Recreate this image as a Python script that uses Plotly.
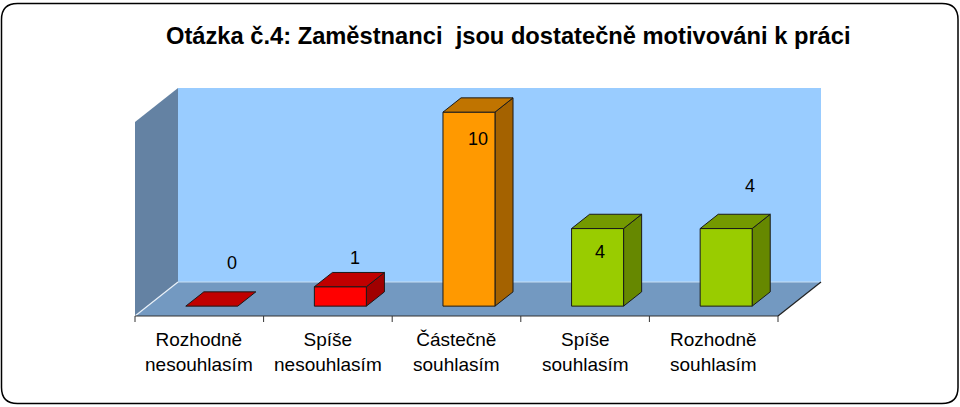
import plotly.graph_objects as go

# ---------------- data ----------------
categories = ["Rozhodně<br>nesouhlasím", "Spíše<br>nesouhlasím", "Částečně<br>souhlasím",
              "Spíše<br>souhlasím", "Rozhodně<br>souhlasím"]
values = [0, 1, 10, 4, 4]
title_text = "Otázka č.4: Zaměstnanci  jsou dostatečně motivováni k práci"
axis_max = 10

# ---------------- styles ----------------
front_colors = ["#FF0000", "#FF0000", "#FF9900", "#99CC00", "#99CC00"]
top_colors = ["#C00000", "#C00000", "#C07400", "#749900", "#749900"]
side_colors = ["#A00000", "#A00000", "#A46200", "#668800", "#668800"]
# label offsets (x in category units, y in value units) relative to bar top centre
label_dx = [0.087, 0.044, 0.0, -0.051, 0.115]
label_dy = [1.85, 1.11, -1.75, -1.58, 1.82]

W, H = 960, 407
ML, MR, MT, MB = 100, 100, 60, 60
PX_X0, PX_PER_X = 135.0, 128.6      # pixel of x=-0.5, pixels per category
PX_Y0, PX_PER_Y = 316.0, 19.4       # pixel of y=0 (front), pixels per unit
DX = 43 / PX_PER_X                  # full depth offset (x units)
DY = 34 / PX_PER_Y                  # full depth offset (y units)
F0, F1 = 0.29, 0.71                 # bar depth span
HW = 26 / PX_PER_X                  # bar half width

x_lo = (ML - PX_X0) / PX_PER_X - 0.5
x_hi = (W - MR - PX_X0) / PX_PER_X - 0.5
y_hi = (PX_Y0 - MT) / PX_PER_Y
y_lo = (PX_Y0 - (H - MB)) / PX_PER_Y

n = len(categories)
xl, xr = -0.5, n - 0.5

fig = go.Figure()


def poly(xs, ys, fill, line_color=None, width=0):
    fig.add_trace(go.Scatter(
        x=list(xs) + [xs[0]], y=list(ys) + [ys[0]], mode="lines", fill="toself",
        fillcolor=fill, line=dict(color=line_color or fill, width=width),
        hoverinfo="skip", showlegend=False))


def line(xs, ys, color, width=1):
    fig.add_trace(go.Scatter(x=xs, y=ys, mode="lines", line=dict(color=color, width=width),
                             hoverinfo="skip", showlegend=False))


# back wall
poly([xl + DX, xr + DX, xr + DX, xl + DX], [DY, DY, axis_max + DY, axis_max + DY], "#99CCFF")
# side wall
poly([xl, xl + DX, xl + DX, xl], [0, DY, axis_max + DY, axis_max], "#6482A3")
# floor
poly([xl, xr, xr + DX, xl + DX], [0, 0, DY, DY], "#7399C1")
line([xl + DX, xr + DX], [DY, DY], "#C8DDF2", 1.2)
line([xl, xl + DX], [0, DY], "#E8F0F8", 1.2)
line([xr, xr + DX], [0, DY], "#222222", 1.2)

# axis line and ticks
line([xl, xr], [0, 0], "#333333", 1.2)
tick_len = 6 / PX_PER_Y
for k in range(n + 1):
    line([xl + k, xl + k], [0, -tick_len], "#333333", 1)

# bars
edge = "#1A1A1A"
for i, v in enumerate(values):
    x0 = i - HW + F0 * DX
    x1 = i + HW + F0 * DX
    yb = F0 * DY
    ddx = (F1 - F0) * DX
    ddy = (F1 - F0) * DY
    yt = yb + v
    if v > 0:
        poly([x1, x1 + ddx, x1 + ddx, x1], [yb, yb + ddy, yt + ddy, yt], side_colors[i], edge, 1)
        poly([x0, x1, x1, x0], [yb, yb, yt, yt], front_colors[i], edge, 1)
    poly([x0, x1, x1 + ddx, x0 + ddx], [yt, yt, yt + ddy, yt + ddy], top_colors[i], edge, 1)

# data labels
for i, v in enumerate(values):
    cx = i + 0.5 * (F0 + F1) * DX
    cy = v + 0.5 * (F0 + F1) * DY
    fig.add_annotation(x=cx + label_dx[i], y=cy + label_dy[i], text=str(v), showarrow=False,
                       font=dict(family="Liberation Sans, Arial", size=18, color="#000000"),
                       xanchor="center", yanchor="middle")

# category labels
for i, c in enumerate(categories):
    fig.add_annotation(x=i, y=0, text=c, showarrow=False, yanchor="top", yshift=-11,
                       font=dict(family="Liberation Sans, Arial", size=19, color="#000000"),
                       xanchor="center", align="center")

# title
pw, ph = W - ML - MR, H - MT - MB
def paper_x(px):
    return (px - ML) / pw
def paper_y(py):
    return (H - MB - py) / ph

fig.add_annotation(x=paper_x(508), y=paper_y(36), xref="paper", yref="paper", text="<b>" + title_text + "</b>",
                   showarrow=False, xanchor="center", yanchor="middle",
                   font=dict(family="Liberation Sans, Arial", size=23.7, color="#000000"))

# rounded border
bx0, bx1, by0, by1, r = 1.5, 958.0, 3.5, 403.5, 16
X = paper_x
Y = paper_y
path = (f"M {X(bx0 + r)},{Y(by0)} L {X(bx1 - r)},{Y(by0)} Q {X(bx1)},{Y(by0)} {X(bx1)},{Y(by0 + r)} "
        f"L {X(bx1)},{Y(by1 - r)} Q {X(bx1)},{Y(by1)} {X(bx1 - r)},{Y(by1)} "
        f"L {X(bx0 + r)},{Y(by1)} Q {X(bx0)},{Y(by1)} {X(bx0)},{Y(by1 - r)} "
        f"L {X(bx0)},{Y(by0 + r)} Q {X(bx0)},{Y(by0)} {X(bx0 + r)},{Y(by0)} Z")
fig.add_shape(type="path", path=path, xref="paper", yref="paper",
              line=dict(color="#000000", width=1.5), layer="above")

fig.update_layout(
    width=W, height=H, margin=dict(l=ML, r=MR, t=MT, b=MB),
    paper_bgcolor="#FFFFFF", plot_bgcolor="rgba(0,0,0,0)",
    xaxis=dict(range=[x_lo, x_hi], visible=False, fixedrange=True),
    yaxis=dict(range=[y_lo, y_hi], visible=False, fixedrange=True),
    showlegend=False,
)

fig.write_html("out.html", config={"displayModeBar": False},
               post_script="document.body.style.margin='0';document.body.style.padding='0';"
                           "document.body.style.overflow='hidden';")
